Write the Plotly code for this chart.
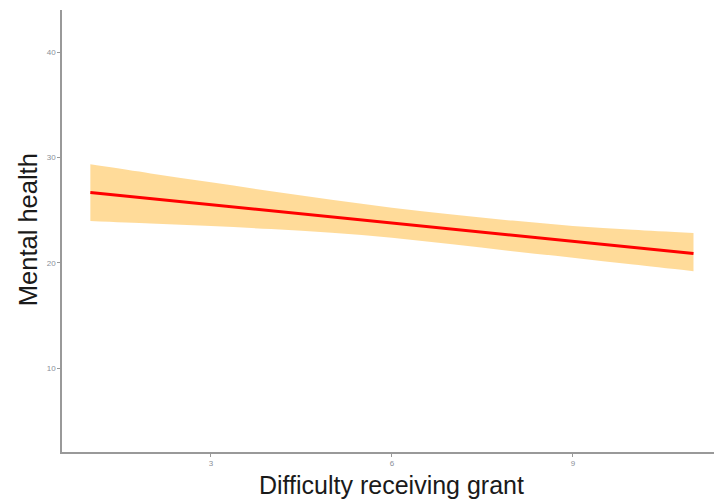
import plotly.graph_objects as go

# Data
x_vals = [1, 2, 3, 4, 5, 6, 7, 8, 9, 10, 11]
fit = [26.68, 26.10, 25.52, 24.95, 24.37, 23.79, 23.21, 22.63, 22.06, 21.48, 20.90]
upper = [29.36, 28.50, 27.65, 26.80, 26.00, 25.25, 24.60, 24.02, 23.52, 23.15, 22.85]
lower = [23.99, 23.75, 23.50, 23.22, 22.88, 22.40, 21.78, 21.12, 20.50, 19.85, 19.22]

x_ticks = [3, 6, 9]
y_ticks = [10, 20, 30, 40]
x_title = "Difficulty receiving grant"
y_title = "Mental health"

fig = go.Figure()
fig.add_trace(go.Scatter(x=x_vals, y=upper, mode="lines", line=dict(width=0, shape="spline"),
                         hoverinfo="skip", showlegend=False))
fig.add_trace(go.Scatter(x=x_vals, y=lower, mode="lines", line=dict(width=0, shape="spline"),
                         fill="tonexty", fillcolor="rgba(255,165,0,0.4)",
                         hoverinfo="skip", showlegend=False))
fig.add_trace(go.Scatter(x=x_vals, y=fit, mode="lines",
                         line=dict(color="#FF0000", width=3), showlegend=False))

axis_common = dict(showline=True, linecolor="#999999", linewidth=1.5,
                   ticks="outside", ticklen=3, tickcolor="#999999", tickwidth=1,
                   showgrid=False, zeroline=False,
                   tickfont=dict(family="Liberation Sans, Arial", size=8, color="#8a8f99"))

fig.update_layout(
    width=714, height=499,
    margin=dict(l=62, r=0, t=10, b=47),
    paper_bgcolor="white", plot_bgcolor="white",
    font=dict(family="Liberation Sans, Arial", color="#1a1a1a"),
    xaxis=dict(range=[0.53, 11.34], tickvals=x_ticks, **axis_common),
    yaxis=dict(range=[2.07, 44.0], tickvals=y_ticks, **axis_common),
    annotations=[
        dict(text=x_title, xref="paper", yref="paper", x=0.506, y=-0.075,
             xanchor="center", yanchor="middle", showarrow=False,
             font=dict(family="Liberation Sans, Arial", size=25, color="#1a1a1a")),
        dict(text=y_title, xref="paper", yref="paper", x=-0.052, y=0.502,
             xanchor="center", yanchor="middle", showarrow=False, textangle=-90,
             font=dict(family="Liberation Sans, Arial", size=25.5, color="#1a1a1a")),
    ],
)

fig.write_html("out.html")
